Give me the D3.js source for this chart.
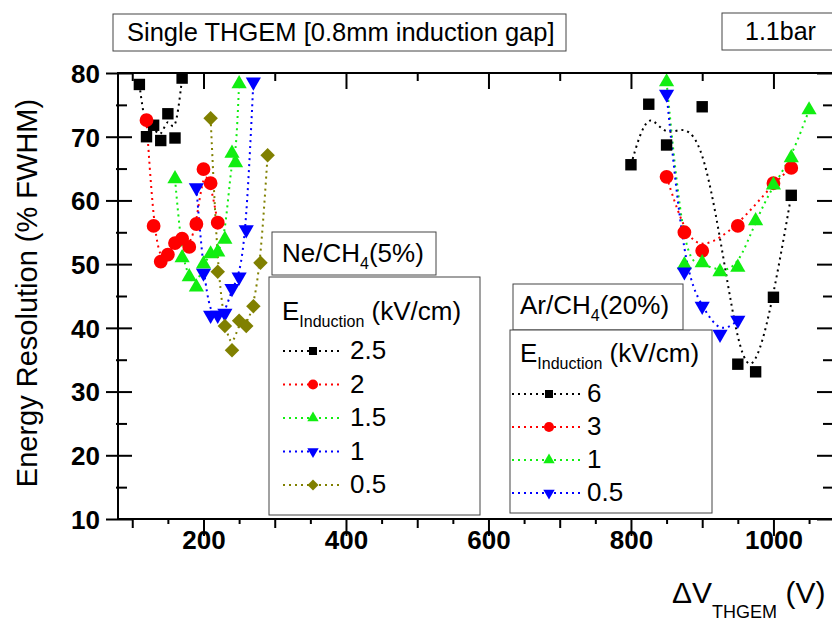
<!DOCTYPE html>
<html>
<head>
<meta charset="utf-8">
<script src="https://cdn.jsdelivr.net/npm/d3@7"></script>
<style>
  html, body { margin: 0; padding: 0; background: #fff; }
  svg { display: block; font-family: "Liberation Sans", Arial, sans-serif; }
</style>
</head>
<body>
<script>
// ---------------- DATA ----------------
// Ne/CH4(5%) series: E_Induction (kV/cm)
const neLabels = ["2.5", "2", "1.5", "1", "0.5"];
const ne25V = [110, 120, 130, 140, 150, 160, 170];
const ne25R = [78.2, 70.0, 71.8, 69.4, 73.6, 69.8, 79.2];
const ne2V  = [120, 130, 140, 150, 160, 170, 180, 190, 200, 210, 220];
const ne2R  = [72.6, 56.0, 50.4, 51.5, 53.3, 54.0, 52.7, 56.3, 64.9, 62.7, 56.5];
const ne15V = [160, 170, 180, 190, 200, 210, 220, 230, 240, 245, 250];
const ne15R = [63.4, 51.0, 48.0, 46.4, 50.0, 51.6, 51.9, 53.9, 67.4, 65.9, 78.3];
const ne1V  = [190, 200, 210, 220, 230, 240, 250, 260, 270];
const ne1R  = [62.0, 48.6, 42.0, 42.0, 42.3, 46.2, 48.0, 55.4, 78.6];
const ne05V = [210, 220, 230, 240, 250, 260, 270, 280, 290];
const ne05R = [72.9, 48.8, 40.3, 36.5, 41.1, 40.3, 43.4, 50.2, 67.1];

// Ar/CH4(20%) series
const arLabels = ["6", "3", "1", "0.5"];
const ar6V  = [800, 825, 850, 900, 950, 975, 1000, 1025];
const ar6R  = [65.6, 75.1, 68.7, 74.7, 34.3, 33.1, 44.8, 60.8];
const ar3V  = [850, 875, 900, 950, 1000, 1025];
const ar3R  = [63.7, 55.0, 52.1, 56.0, 62.7, 65.1];
const ar1V  = [850, 875, 900, 925, 950, 975, 1000, 1025, 1050];
const ar1R  = [78.6, 49.9, 50.2, 48.8, 49.5, 56.8, 62.4, 66.7, 74.2];
const ar05V = [850, 875, 900, 925, 950];
const ar05R = [76.7, 48.8, 43.4, 39.0, 41.2];

// Axis ticks
const xMajorTicks = [200, 400, 600, 800, 1000];
const yMajorTicks = [10, 20, 30, 40, 50, 60, 70, 80];

// ---------------- STYLE ----------------
const COL = { black: "#000000", red: "#ff0000", green: "#11ee11", blue: "#0000ff", olive: "#808000" };
const FONT = '"Liberation Sans", Arial, sans-serif';

const W = 832, H = 621;
const svg = d3.select("body").append("svg").attr("width", W).attr("height", H);

const x = d3.scaleLinear().domain([80, 1085]).range([118, 834]);
const y = d3.scaleLinear().domain([10, 80]).range([519, 73]);

// symbol makers
const shapes = {
  square:  { type: d3.symbolSquare, rot: 0 },
  circle:  { type: d3.symbolCircle, rot: 0 },
  up:      { type: d3.symbolTriangle, rot: 0 },
  down:    { type: d3.symbolTriangle, rot: 180 },
  diamond: { type: d3.symbolSquare, rot: 45 }
};
const bigSize = { square: 130, circle: 150, up: 100, down: 100, diamond: 105 };
const smallSize = { square: 64, circle: 80, up: 56, down: 56, diamond: 60 };

function zip(v, r) { return v.map((d, i) => ({ v: d, r: r[i] })); }

const neSeries = [
  { label: neLabels[0], data: zip(ne25V, ne25R), color: COL.black, shape: "square" },
  { label: neLabels[1], data: zip(ne2V, ne2R), color: COL.red, shape: "circle" },
  { label: neLabels[2], data: zip(ne15V, ne15R), color: COL.green, shape: "up" },
  { label: neLabels[3], data: zip(ne1V, ne1R), color: COL.blue, shape: "down" },
  { label: neLabels[4], data: zip(ne05V, ne05R), color: COL.olive, shape: "diamond" }
];
const arSeries = [
  { label: arLabels[0], data: zip(ar6V, ar6R), color: COL.black, shape: "square" },
  { label: arLabels[1], data: zip(ar3V, ar3R), color: COL.red, shape: "circle" },
  { label: arLabels[2], data: zip(ar1V, ar1R), color: COL.green, shape: "up" },
  { label: arLabels[3], data: zip(ar05V, ar05R), color: COL.blue, shape: "down" }
];

// ---------------- CLIP ----------------
svg.append("defs").append("clipPath").attr("id", "plotclip")
  .append("rect").attr("x", x(80)).attr("y", y(80))
  .attr("width", x(1085) - x(80)).attr("height", y(10) - y(80));

// ---------------- CURVES & POINTS ----------------
const line = d3.line().x(d => x(d.v)).y(d => y(d.r)).curve(d3.curveBasis);
const plot = svg.append("g").attr("clip-path", "url(#plotclip)");

[...neSeries, ...arSeries].forEach(s => {
  plot.append("path").datum(s.data)
    .attr("d", line)
    .attr("fill", "none")
    .attr("stroke", s.color)
    .attr("stroke-width", 2)
    .attr("stroke-dasharray", "2,4");
});
[...neSeries, ...arSeries].forEach(s => {
  const sh = shapes[s.shape];
  const sym = d3.symbol().type(sh.type).size(bigSize[s.shape]);
  plot.selectAll(null).data(s.data).enter().append("path")
    .attr("d", sym)
    .attr("transform", d => `translate(${x(d.v)},${y(d.r)}) rotate(${sh.rot})`)
    .attr("fill", s.color);
});

// ---------------- AXES ----------------
const axisStroke = g => g.selectAll("line").attr("stroke", "#000").attr("stroke-width", 2);

// bottom major with labels
const gB = svg.append("g").attr("transform", `translate(0,${y(10)})`)
  .call(d3.axisBottom(x).tickValues(xMajorTicks).tickSize(17).tickPadding(-5).tickFormat(d3.format("d")));
gB.select(".domain").remove();
gB.call(axisStroke);
gB.selectAll("text").attr("font-size", 26).attr("font-weight", "bold").attr("font-family", FONT).attr("fill", "#000");
// bottom minor 100s
const gB2 = svg.append("g").attr("transform", `translate(0,${y(10)})`)
  .call(d3.axisBottom(x).tickValues(d3.range(100, 1085, 200)).tickSize(9).tickFormat(""));
gB2.select(".domain").remove(); gB2.call(axisStroke);
// bottom minor 50s
const gB3 = svg.append("g").attr("transform", `translate(0,${y(10)})`)
  .call(d3.axisBottom(x).tickValues(d3.range(150, 1085, 100)).tickSize(5).tickFormat(""));
gB3.select(".domain").remove(); gB3.call(axisStroke);

// top ticks
const gT = svg.append("g").attr("transform", `translate(0,${y(80)})`)
  .call(d3.axisTop(x).tickValues(xMajorTicks).tickSize(-16).tickFormat(""));
gT.select(".domain").remove(); gT.call(axisStroke);
const gT2 = svg.append("g").attr("transform", `translate(0,${y(80)})`)
  .call(d3.axisTop(x).tickValues(d3.range(100, 1085, 200)).tickSize(-8).tickFormat(""));
gT2.select(".domain").remove(); gT2.call(axisStroke);

// left major (ticks cross the axis)
const gL = svg.append("g").attr("transform", `translate(${x(80)},0)`)
  .call(d3.axisLeft(y).tickValues(yMajorTicks).tickSize(12).tickPadding(6).tickFormat(d3.format("d")));
gL.select(".domain").remove();
gL.call(axisStroke);
gL.selectAll(".tick line").attr("x1", 14);
gL.selectAll("text").attr("font-size", 26).attr("font-weight", "bold").attr("font-family", FONT).attr("fill", "#000")
  .attr("dy", "0.36em");
// left minor
const gL2 = svg.append("g").attr("transform", `translate(${x(80)},0)`)
  .call(d3.axisLeft(y).tickValues(d3.range(15, 80, 10)).tickSize(2).tickFormat(""));
gL2.select(".domain").remove(); gL2.call(axisStroke);
gL2.selectAll(".tick line").attr("x1", 9);

// right ticks
const gR = svg.append("g").attr("transform", `translate(${x(1085)},0)`)
  .call(d3.axisRight(y).tickValues(yMajorTicks).tickSize(-17).tickFormat(""));
gR.select(".domain").remove(); gR.call(axisStroke);
const gR2 = svg.append("g").attr("transform", `translate(${x(1085)},0)`)
  .call(d3.axisRight(y).tickValues(d3.range(15, 80, 10)).tickSize(-11).tickFormat(""));
gR2.select(".domain").remove(); gR2.call(axisStroke);

// frame
svg.append("rect").attr("x", x(80)).attr("y", y(80))
  .attr("width", x(1085) - x(80)).attr("height", y(10) - y(80))
  .attr("fill", "none").attr("stroke", "#000").attr("stroke-width", 2);

// ---------------- AXIS TITLES ----------------
svg.append("text")
  .attr("transform", `translate(37,293) rotate(-90)`)
  .attr("text-anchor", "middle")
  .attr("font-size", 29).attr("font-family", FONT).attr("fill", "#000")
  .text("Energy Resolution (% FWHM)");

const xl = svg.append("text").attr("x", 672).attr("y", 603)
  .attr("font-size", 30).attr("font-family", FONT).attr("fill", "#000");
xl.append("tspan").text("ΔV");
xl.append("tspan").attr("font-size", 18).attr("dy", 15).text("THGEM");
xl.append("tspan").attr("dy", -15).text(" (V)");

// ---------------- ANNOTATION BOXES ----------------
function box(x0, y0, w, h) {
  svg.append("rect").attr("x", x0).attr("y", y0).attr("width", w).attr("height", h)
    .attr("fill", "#fff").attr("stroke", "#444").attr("stroke-width", 1);
}
box(113, 14, 453, 37);
svg.append("text").attr("x", 127).attr("y", 41).attr("font-size", 25.5).attr("font-family", FONT)
  .text("Single THGEM [0.8mm induction gap]");
box(722, 13, 140, 37);
svg.append("text").attr("x", 745).attr("y", 40).attr("font-size", 25).attr("font-family", FONT)
  .text("1.1bar");

// ---------------- LEGENDS ----------------
function gasLabel(x0, yb, pre, post) {
  const t = svg.append("text").attr("x", x0).attr("y", yb).attr("font-size", 26).attr("font-family", FONT);
  t.append("tspan").text(pre);
  t.append("tspan").attr("font-size", 16).attr("dy", 7).text("4");
  t.append("tspan").attr("dy", -7).text(post);
}
function legend(series, bx, by, bw, bh, headX, headY, lx0, lx1, symX, txtX, rowY0, rowDy) {
  box(bx, by, bw, bh);
  const h = svg.append("text").attr("x", headX).attr("y", headY).attr("font-size", 26).attr("font-family", FONT);
  h.append("tspan").text("E");
  h.append("tspan").attr("font-size", 16).attr("dy", 7).text("Induction");
  h.append("tspan").attr("dy", -7).text(" (kV/cm)");
  series.forEach((s, i) => {
    const cy = rowY0 + i * rowDy;
    svg.append("line").attr("x1", lx0).attr("x2", lx1).attr("y1", cy).attr("y2", cy)
      .attr("stroke", s.color).attr("stroke-width", 2).attr("stroke-dasharray", "2,4");
    const sh = shapes[s.shape];
    svg.append("path").attr("d", d3.symbol().type(sh.type).size(smallSize[s.shape]))
      .attr("transform", `translate(${symX},${cy}) rotate(${sh.rot})`)
      .attr("fill", s.color);
    svg.append("text").attr("x", txtX).attr("y", cy + 8).attr("font-size", 26).attr("font-family", FONT)
      .text(s.label);
  });
}

// Ne legend
box(272, 232, 164, 43);
gasLabel(282, 262, "Ne/CH", "(5%)");
legend(neSeries, 269, 277, 211, 238, 282, 320, 283, 343, 313, 350, 351, 33.5);

// Ar legend
box(513, 284, 170, 46);
gasLabel(520, 314, "Ar/CH", "(20%)");
legend(arSeries, 510, 330, 202, 183, 520, 362, 512, 580, 549, 587, 394, 33);
</script>
</body>
</html>
